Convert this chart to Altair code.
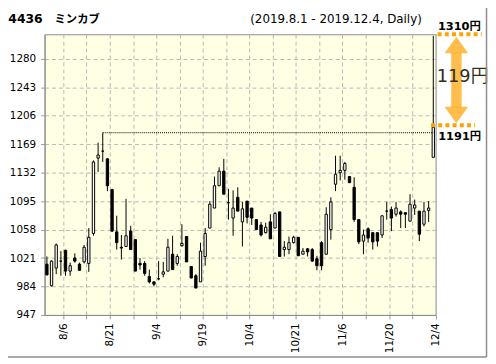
import altair as alt
import pandas as pd

code = "4436"
name = "ミンカブ"
period = "(2019.8.1 - 2019.12.4, Daily)"

dates = ["8/1", "8/2", "8/5", "8/6", "8/7", "8/8", "8/9", "8/13", "8/14", "8/15", "8/16",
         "8/19", "8/20", "8/21", "8/22", "8/23", "8/26", "8/27", "8/28", "8/29", "8/30",
         "9/2", "9/3", "9/4", "9/5", "9/6", "9/9", "9/10", "9/11", "9/12", "9/13",
         "9/17", "9/18", "9/19", "9/20", "9/24", "9/25", "9/26", "9/27", "9/30",
         "10/1", "10/2", "10/3", "10/4", "10/7", "10/8", "10/9", "10/10", "10/11",
         "10/15", "10/16", "10/17", "10/18", "10/21", "10/23", "10/24", "10/25",
         "10/28", "10/29", "10/30", "10/31",
         "11/1", "11/5", "11/6", "11/7", "11/8", "11/11", "11/12", "11/13", "11/14",
         "11/15", "11/18", "11/19", "11/20", "11/21", "11/22", "11/25", "11/26",
         "11/27", "11/28", "11/29", "12/2", "12/3", "12/4"]

opens = [1013, 985, 1008, 1017, 1031, 1004, 1021, 1013, 1016, 1014, 1053,
         1151, 1160, 1150, 1110, 1055, 1035, 1036, 1056, 1045, 1014,
         1014, 997, 990, 994, 1000, 1004, 1026, 1014, 1037, 1049,
         1010, 998, 990, 1023, 1060, 1086, 1115, 1134, 1093, 1073,
         1100, 1068, 1095, 1086, 1071, 1064, 1054, 1068, 1060, 1081,
         1032, 1032, 1041, 1048, 1026, 1033, 1032, 1020, 1041, 1026,
         1058, 1117, 1132, 1135, 1127, 1113, 1071, 1043, 1059, 1054,
         1054, 1051, 1082, 1084, 1078, 1081, 1080, 1069, 1086, 1082,
         1065, 1083, 1152]
highs = [1023, 1018, 1040, 1030, 1032, 1015, 1027, 1015, 1038, 1060, 1148,
         1171, 1184, 1151, 1111, 1076, 1051, 1098, 1063, 1045, 1021,
         1017, 1006, 991, 1017, 1016, 1046, 1050, 1026, 1065, 1049,
         1010, 1000, 1041, 1060, 1095, 1127, 1139, 1150, 1111, 1109,
         1113, 1094, 1095, 1086, 1071, 1068, 1067, 1078, 1081, 1081,
         1043, 1049, 1050, 1048, 1034, 1034, 1034, 1024, 1043, 1087,
         1100, 1154, 1154, 1146, 1127, 1126, 1071, 1058, 1061, 1054,
         1054, 1076, 1094, 1088, 1094, 1083, 1080, 1104, 1097, 1082,
         1094, 1095, 1310]
lows = [999, 984, 1000, 998, 998, 998, 1015, 1005, 1014, 1003, 1050,
        1133, 1146, 1108, 1055, 1032, 1019, 1036, 1032, 1004, 1006,
        998, 988, 984, 992, 996, 1004, 1006, 1011, 1036, 1016,
        995, 982, 990, 1011, 1060, 1086, 1115, 1104, 1071, 1050,
        1082, 1036, 1066, 1064, 1058, 1049, 1053, 1046, 1060, 1023,
        1023, 1026, 1040, 1024, 1026, 1023, 1016, 1005, 1005, 1026,
        1045, 1108, 1122, 1123, 1119, 1068, 1039, 1026, 1041, 1032,
        1036, 1047, 1071, 1056, 1075, 1060, 1060, 1069, 1077, 1043,
        1062, 1068, 1152]
closes = [999, 1017, 1038, 1017, 1004, 1011, 1017, 1005, 1035, 1048, 1146,
          1155, 1160, 1115, 1056, 1041, 1034, 1050, 1032, 1004, 1012,
          1001, 990, 987, 994, 1003, 1035, 1006, 1023, 1040, 1016,
          995, 982, 1030, 1053, 1091, 1115, 1134, 1104, 1093, 1086,
          1082, 1085, 1074, 1073, 1058, 1051, 1061, 1046, 1079, 1023,
          1035, 1041, 1048, 1024, 1030, 1029, 1017, 1011, 1011, 1078,
          1094, 1130, 1135, 1144, 1119, 1071, 1042, 1051, 1047, 1042,
          1043, 1076, 1082, 1073, 1086, 1078, 1078, 1091, 1090, 1052,
          1082, 1086, 1191]

y_ticks = [947, 984, 1021, 1058, 1095, 1132, 1169, 1206, 1243, 1280]
x_tick_dates = ["8/6", "8/21", "9/4", "9/19", "10/4", "10/21", "11/6", "11/20", "12/4"]

n = len(dates)
df = pd.DataFrame({"idx": list(range(n)), "date": dates, "open": opens,
                   "high": highs, "low": lows, "close": closes})

# grid line at the right edge of a day's slot, every 5 trading days
grid_vals = [v for v in range(dates.index(x_tick_dates[0]) + 1, n + 1, 5)]
label_arr = [""] * (n + 1)
for d in x_tick_dates:
    label_arr[dates.index(d) + 1] = d
label_expr = "[" + ",".join("'" + s + "'" for s in label_arr) + "][datum.value]"
ylab_expr = "format(datum.value, 'd')"

W, H = 395.7, 284
FONT = "DejaVu Sans, Noto Sans CJK JP"
CJK = "Noto Sans CJK JP"
ORANGE = "#FFA200"

xs = alt.Scale(domain=[0, n], nice=False, zero=False)
ys = alt.Scale(domain=[947, 1312], nice=False, zero=False)

X_AX = alt.Axis(values=grid_vals, labelExpr=label_expr, labelAngle=270,
                labelOverlap=False, grid=True, tickSize=4, labelPadding=4, title=None)
Y_AX = alt.Axis(values=y_ticks, labelExpr=ylab_expr, labelOverlap=False,
                labelBound=False, labelFlush=False, grid=True,
                tickSize=4, labelPadding=5, title=None)


def xv(f):
    return alt.X(f, scale=xs, axis=X_AX)


def yv(f):
    return alt.Y(f, scale=ys, axis=Y_AX)


base = alt.Chart(df).transform_calculate(
    xc="datum.idx + 0.5", x1="datum.idx + 0.25", x2="datum.idx + 0.75"
)

wicks = base.mark_rule(color="black", strokeWidth=1).encode(
    x=xv("xc:Q"), y=yv("low:Q"), y2="high:Q",
)

bodies = base.mark_rect(stroke="black", strokeWidth=1).encode(
    x=xv("x1:Q"),
    x2="x2:Q",
    y=yv("open:Q"),
    y2="close:Q",
    fill=alt.condition("datum.close >= datum.open", alt.value("white"), alt.value("black")),
)

# previous peak, dotted to the last day
peak_i = max(range(n - 1), key=lambda i: highs[i])
peak_df = pd.DataFrame({"x": [peak_i + 0.5], "x2": [n - 0.5], "y": [highs[peak_i]]})
peak_line = alt.Chart(peak_df).mark_rule(color="black", strokeWidth=1, strokeDash=[1, 1]).encode(
    x=xv("x:Q"), x2="x2:Q", y=yv("y:Q")
)

last = pd.DataFrame({"hi": [highs[-1]], "cl": [closes[-1]]})
ann = alt.Chart(last).transform_calculate(
    diff="format(datum.hi - datum.cl, 'd') + '円'",
    hi_t="format(datum.hi, 'd') + '円'",
    cl_t="format(datum.cl, 'd') + '円'",
    mid="(datum.hi + datum.cl) / 2",
)

hi_line = ann.mark_rule(color=ORANGE, strokeWidth=4, strokeDash=[4, 3.3], yOffset=-1.5).encode(
    x=alt.value(397.7), x2=alt.value(442.3), y=yv("hi:Q"))
cl_line = ann.mark_rule(color=ORANGE, strokeWidth=4, strokeDash=[4, 3.3], yOffset=-2).encode(
    x=alt.value(391), x2=alt.value(435.7), y=yv("cl:Q"))
shaft = ann.mark_rect(color=ORANGE, opacity=0.7, yOffset=17, y2Offset=-20).encode(
    x=alt.value(411.5), x2=alt.value(422), y=yv("hi:Q"), y2="cl:Q")
head_up = ann.mark_point(shape="M0,-0.7L1,0.7L-1,0.7Z", size=576, filled=True, color=ORANGE,
                         opacity=0.7, yOffset=9.3).encode(
    x=alt.value(416.7), y=yv("hi:Q"))
head_dn = ann.mark_point(shape="M0,0.7L1,-0.7L-1,-0.7Z", size=576, filled=True, color=ORANGE,
                         opacity=0.7, yOffset=-12.5).encode(
    x=alt.value(416.7), y=yv("cl:Q"))
diff_txt = ann.mark_text(font=FONT, fontSize=18, color="#2f2f1a", align="center",
                         baseline="middle", yOffset=-5).encode(
    x=alt.value(423), y=yv("mid:Q"), text="diff:N")
hi_txt = ann.mark_text(font=FONT, fontSize=11.5, fontWeight="bold", color="black", align="left",
                       baseline="alphabetic", yOffset=-5.8).encode(
    x=alt.value(398), y=yv("hi:Q"), text="hi_t:N")
cl_txt = ann.mark_text(font=FONT, fontSize=11.5, fontWeight="bold", color="black", align="left",
                       baseline="alphabetic", yOffset=13.3).encode(
    x=alt.value(398.3), y=yv("cl:Q"), text="cl_t:N")

one = alt.Chart(pd.DataFrame({"c": [code], "nm": [name], "p": [period]}))
code_txt = one.mark_text(font=FONT, fontSize=12.5, fontWeight="bold", color="black",
                         align="left", baseline="alphabetic").encode(
    x=alt.value(-36.7), y=alt.value(-11.8), text="c:N")
name_txt = one.mark_text(font=CJK, fontSize=11.5, fontWeight="bold", color="black",
                         align="left", baseline="alphabetic").encode(
    x=alt.value(10), y=alt.value(-11.8), text="nm:N")
period_txt = one.mark_text(font=FONT, fontSize=12, color="black", align="right",
                           baseline="alphabetic").encode(
    x=alt.value(381.7), y=alt.value(-11.8), text="p:N")
frame_r = one.mark_rule(color="#8c8c8c", strokeWidth=1.5).encode(
    x=alt.value(447.2), y=alt.value(-31), y2=alt.value(326.5))
frame_b = one.mark_rule(color="#8c8c8c", strokeWidth=1.5).encode(
    x=alt.value(-37), x2=alt.value(447.2), y=alt.value(326.5))

chart = alt.layer(
    wicks, bodies, peak_line, hi_line, cl_line, shaft, head_up, head_dn,
    diff_txt, hi_txt, cl_txt, code_txt, name_txt, period_txt, frame_r, frame_b
).properties(
    width=W, height=H,
    autosize=alt.AutoSizeParams(type="none"),
    padding={"left": 37, "top": 24.5, "right": 53, "bottom": 43.5},
).configure_view(
    fill="#FFFFE3", stroke="#8c8c8c", strokeWidth=1
).configure_axis(
    labelFont="DejaVu Sans", labelFontSize=10.5, labelColor="black", labelOverlap=False,
    tickColor="#999999", domainColor="#8c8c8c", gridColor="#b8b8b8", gridDash=[4, 3],
)

chart.save("out.html", embed_options={"renderer": "svg", "actions": False})
